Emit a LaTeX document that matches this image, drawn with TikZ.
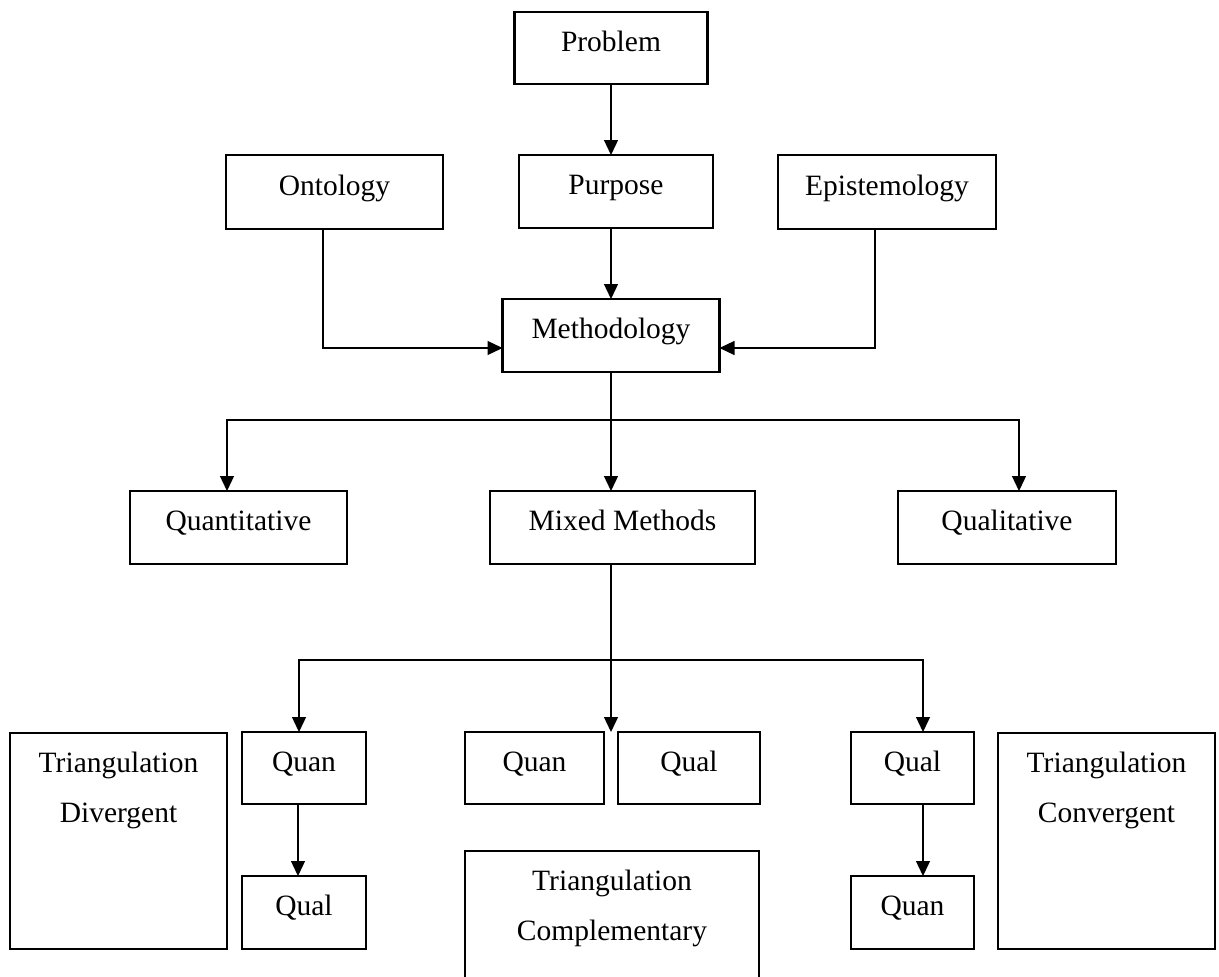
\documentclass[tikz,border=0pt]{standalone}
\usepackage{fontspec}
\setmainfont{Liberation Serif}
\usetikzlibrary{arrows.meta}
\begin{document}
\begin{tikzpicture}[x=1pt,y=-1pt,
  box/.style={draw, line width=2.8pt, rectangle, inner sep=0pt, outer sep=0pt,
    font=\fontsize{29.5}{50}\selectfont, text height=20pt, text depth=14pt},
  bigbox/.style={draw, line width=2.8pt, rectangle, inner sep=0pt, outer sep=0pt},
  lbl/.style={font=\fontsize{29.5}{50}\selectfont, align=center, inner sep=0pt, anchor=north},
  arr/.style={line width=1.3pt, -{Triangle[length=15pt,width=14pt]}},
  ln/.style={line width=1.3pt}]
\clip (0,0) rectangle (1219,977);
\fill[white] (0,0) rectangle (1219,977);
% top
\node[box, minimum width=193pt, minimum height=72pt] (prob) at (611,48) {Problem};
\node[box, minimum width=217pt, minimum height=74pt] (onto) at (334.5,192) {Ontology};
\node[box, minimum width=194pt, minimum height=73pt] (purp) at (616,191.5) {Purpose};
\node[box, minimum width=218pt, minimum height=74pt] (epis) at (887,192) {Epistemology};
\node[box, minimum width=217pt, minimum height=73pt] (meth) at (611,335.5) {Methodology};
% middle
\node[box, minimum width=217pt, minimum height=73pt] (quant) at (238.5,527.5) {Quantitative};
\node[box, minimum width=265pt, minimum height=73pt] (mixed) at (622.5,527.5) {Mixed Methods};
\node[box, minimum width=218pt, minimum height=73pt] (qualit) at (1007,527.5) {Qualitative};
% bottom
\node[bigbox, minimum width=217pt, minimum height=216pt] (tdiv) at (118.5,841) {};
\node[lbl] (tdivl) at (118.5,752) {Triangulation\\Divergent};
\node[box, minimum width=124pt, minimum height=72pt] (quanL) at (304,768) {Quan};
\node[box, minimum width=124pt, minimum height=73pt] (qualL) at (304,912.5) {Qual};
\node[box, minimum width=139pt, minimum height=72pt] (quanM) at (534.5,768) {Quan};
\node[box, minimum width=142pt, minimum height=72pt] (qualM) at (689,768) {Qual};
\node[bigbox, minimum width=294pt, minimum height=150pt] (tcomp) at (612,926) {};
\node[lbl] (tcompl) at (612,870) {Triangulation\\Complementary};
\node[box, minimum width=123pt, minimum height=72pt] (qualR) at (912.5,768) {Qual};
\node[box, minimum width=123pt, minimum height=73pt] (quanR) at (912.5,912.5) {Quan};
\node[bigbox, minimum width=217pt, minimum height=216pt] (tconv) at (1106.5,841) {};
\node[lbl] (tconvl) at (1106.5,752) {Triangulation\\Convergent};
% junctions
\coordinate (j1) at (611,420);
\coordinate (j2) at (611,660);
% connectors
\draw[arr] (prob.south) -- (prob.south |- purp.north);
\draw[arr] (meth.north |- purp.south) -- (meth.north);
\draw[arr] (onto.south -| 323,0) |- (meth.west |- 0,348);
\draw[arr] (epis.south -| 875,0) |- (meth.east |- 0,348);
\draw[ln] (meth.south) -- (j1);
\draw[arr] (j1) -| (quant.north -| 227,0);
\draw[arr] (j1) -| (qualit.north -| 1019,0);
\draw[arr] (j1) -- (j1 |- mixed.north);
\draw[ln] (mixed.south -| j2) -- (j2);
\draw[arr] (j2) -| (quanL.north -| 299,0);
\draw[arr] (j2) -| (qualR.north -| 923,0);
\draw[arr] (j2) -- (j2 |- quanM.north);
\draw[arr] (quanL.south -| 298,0) -- (qualL.north -| 298,0);
\draw[arr] (qualR.south -| 923,0) -- (quanR.north -| 923,0);
\end{tikzpicture}
\end{document}
